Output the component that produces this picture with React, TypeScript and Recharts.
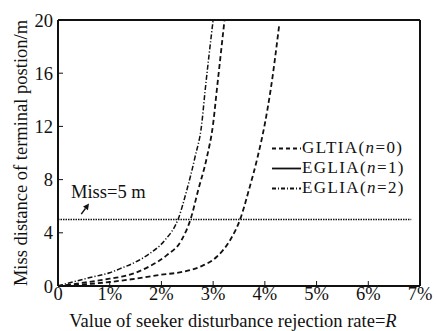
import React from 'react';
import { LineChart, Line, XAxis, YAxis, ReferenceLine } from 'recharts';

const FONT = '"Liberation Serif", "Times New Roman", Times, serif';

// GLTIA (n=0) – rightmost dashed curve
const gltiaX = [0, 0.5, 1.0, 1.5, 2.0, 2.42, 2.75, 3.07, 3.33, 3.53, 3.69, 3.86, 4.0, 4.11, 4.28];
const gltiaY = [0, 0.12, 0.3, 0.55, 0.85, 1.07, 1.45, 2.2, 3.46, 5.1, 7.2, 9.7, 12.2, 14.7, 19.7];
// EGLIA (n=1) – middle curve
const egl1X = [0, 0.5, 1.0, 1.23, 1.5, 1.78, 2.1, 2.39, 2.57, 2.71, 2.88, 3.0, 3.07, 3.22];
const egl1Y = [0, 0.25, 0.55, 0.7, 1.0, 1.5, 2.3, 3.46, 5.1, 7.2, 9.7, 12.2, 14.7, 20.0];
// EGLIA (n=2) – dash-dot curve
const egl2X = [0, 0.58, 1.0, 1.23, 1.5, 1.78, 2.07, 2.33, 2.49, 2.65, 2.78, 2.84, 3.0];
const egl2Y = [0, 0.6, 1.0, 1.35, 1.8, 2.46, 3.46, 5.1, 7.2, 9.7, 12.2, 14.5, 20.0];

const xTicks = [0, 1, 2, 3, 4, 5, 6, 7];
const yTicks = [0, 4, 8, 12, 16, 20];
const missValue = 5;
const missStart = 0;
const missEnd = 6.83;
const arrowFrom = { x: 0.45, y: 5.4 };
const arrowTo = { x: 0.6, y: 6.2 };

const toPoints = (xs: number[], ys: number[]) => xs.map((x, i) => ({ x, y: ys[i] }));
const gltiaData = toPoints(gltiaX, gltiaY);
const egl1Data = toPoints(egl1X, egl1Y);
const egl2Data = toPoints(egl2X, egl2Y);
const missData = [
  { x: missStart, y: missValue },
  { x: missEnd, y: missValue },
];

const legendItems = [
  { base: 'GLTIA(', n: '0', dash: '4 3' },
  { base: 'EGLIA(', n: '1', dash: '' },
  { base: 'EGLIA(', n: '2', dash: '4 2 1 2' },
];

const LegendBox = () => (
  <div
    style={{
      position: 'absolute',
      left: 271,
      top: 138,
      fontFamily: FONT,
      fontSize: 17,
      letterSpacing: '1.4px',
      color: '#111',
      lineHeight: '20px',
    }}
  >
    {legendItems.map((it, i) => (
      <div key={i} style={{ display: 'flex', alignItems: 'center', height: 20, whiteSpace: 'nowrap' }}>
        <svg width={31} height={19} style={{ display: 'block' }}>
          <line x1={1} y1={9.5} x2={30} y2={9.5} stroke="#111" strokeWidth={1.8} strokeDasharray={it.dash || undefined} />
        </svg>
        <span>
          {it.base}
          <i>n</i>={it.n})
        </span>
      </div>
    ))}
  </div>
);

const ArrowShape = (props: any) => {
  const { x1, y1, x2, y2 } = props;
  if ([x1, y1, x2, y2].some((v) => typeof v !== 'number' || isNaN(v))) return <g />;
  const ang = Math.atan2(y2 - y1, x2 - x1);
  const L = 6, W = 3;
  const bx = x2 - L * Math.cos(ang);
  const by = y2 - L * Math.sin(ang);
  const px = -Math.sin(ang) * W;
  const py = Math.cos(ang) * W;
  return (
    <g>
      <line x1={x1} y1={y1} x2={bx} y2={by} stroke="#111" strokeWidth={1.5} />
      <polygon points={`${x2},${y2} ${bx + px},${by + py} ${bx - px},${by - py}`} fill="#111" />
      <text x={x2 - 18} y={y2 - 6} fontFamily={FONT} fontSize={18.5} fill="#111">
        Miss=5 m
      </text>
    </g>
  );
};

const XTitle = (props: any) => {
  const vb = props.viewBox || {};
  return (
    <text x={vb.x + vb.width / 2 - 6} y={327} textAnchor="middle" fontFamily={FONT} fontSize={18.5} fill="#111">
      Value of seeker disturbance rejection rate=<tspan fontStyle="italic">R</tspan>
    </text>
  );
};

const YTitle = (props: any) => {
  const vb = props.viewBox || {};
  const cx = 21;
  const cy = vb.y + vb.height / 2;
  return (
    <text
      x={cx}
      y={cy}
      textAnchor="middle"
      dominantBaseline="central"
      transform={`rotate(-90 ${cx} ${cy})`}
      fontFamily={FONT}
      fontSize={18.5}
      fill="#111"
    >
      Miss distance of terminal postion/m
    </text>
  );
};

export default function App() {
  return (
    <div
      style={{
        position: 'absolute',
        left: 0,
        top: 0,
        width: 438,
        height: 331,
        background: '#fff',
        fontFamily: FONT,
      }}
    >
      <LineChart width={438} height={331} margin={{ top: 20, right: 18, left: 0, bottom: 0 }} style={{ fontFamily: FONT }}>
        <XAxis
          type="number"
          dataKey="x"
          domain={[0, 7]}
          ticks={xTicks}
          allowDataOverflow
          tickFormatter={(v: number) => (v === 0 ? '0' : `${v}%`)}
          height={45}
          tickSize={-5}
          tickMargin={6}
          axisLine={{ stroke: '#111', strokeWidth: 2 }}
          tickLine={{ stroke: '#111', strokeWidth: 1 }}
          tick={{ fill: '#111', fontSize: 18.5, fontFamily: FONT }}
          label={<XTitle />}
        />
        <YAxis
          type="number"
          domain={[0, 20]}
          ticks={yTicks}
          allowDataOverflow
          width={58}
          tickSize={-5}
          tickMargin={10}
          axisLine={{ stroke: '#111', strokeWidth: 2 }}
          tickLine={{ stroke: '#111', strokeWidth: 1 }}
          tick={{ fill: '#111', fontSize: 18.5, fontFamily: FONT }}
          label={<YTitle />}
        />
        <ReferenceLine y={20} stroke="#111" strokeWidth={2} />
        <ReferenceLine x={7} stroke="#111" strokeWidth={2} />
        <Line
          data={missData}
          dataKey="y"
          type="linear"
          stroke="#111"
          strokeWidth={1.3}
          strokeDasharray="1.5 1"
          dot={false}
          legendType="none"
          isAnimationActive={false}
        />
        <Line data={gltiaData} dataKey="y" name="GLTIA" type="monotone" stroke="#111" strokeWidth={1.8} strokeDasharray="5 3" dot={false} isAnimationActive={false} />
        <Line data={egl1Data} dataKey="y" name="EGLIA1" type="monotone" stroke="#111" strokeWidth={1.8} strokeDasharray="5 3" dot={false} isAnimationActive={false} />
        <Line data={egl2Data} dataKey="y" name="EGLIA2" type="monotone" stroke="#111" strokeWidth={1.5} strokeDasharray="5 2 1.2 2" dot={false} isAnimationActive={false} />
        <ReferenceLine segment={[arrowFrom, arrowTo]} shape={ArrowShape} ifOverflow="visible" />
      </LineChart>
      <LegendBox />
    </div>
  );
}
